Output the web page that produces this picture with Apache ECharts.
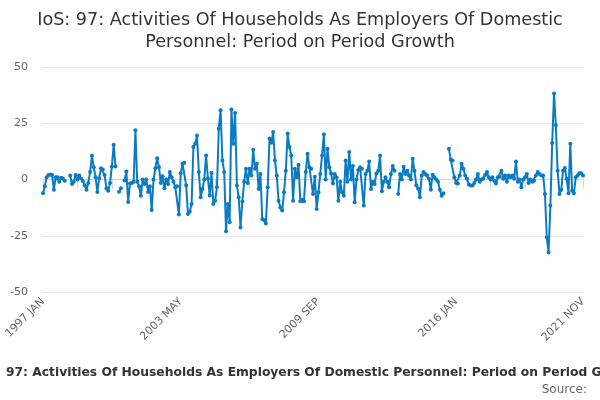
<!DOCTYPE html>
<html>
<head>
<meta charset="utf-8">
<script src="https://cdn.jsdelivr.net/npm/echarts@6/dist/echarts.min.js"></script>
<style>html,body{margin:0;padding:0;background:#fff;}#c{width:600px;height:400px;}</style>
</head>
<body>
<div id="c"></div>
<script>
var startYear = 1997;
var monthNames = ['JAN','FEB','MAR','APR','MAY','JUN','JUL','AUG','SEP','OCT','NOV','DEC'];
var yTicks = [-50, -25, 0, 25, 50];

var values1997_2001 = [-6.1,-3,1,2,2.2,2,-4.5,1,1,-1,0.8,0.5,-0.5,null,null,1.8,-2,-1,2,0,1.8,0.5,-0.7,-2.5,-4.5,-1.5,3.3,10.6,5.5,1,-5.5,0.5,5,4.5,2,-3.9,-5,-1.5,5.8,15.5,5.8,null,-5.4,-3.9,null,-0.4,3.6,-10,-1.8,-1.5,-1,21.9,-1,-3,-7.2,0,-2,0,-5.5,-3];
var values2002_2006 = [-13.5,0,5,9.5,5.5,-1.5,1.5,-3.9,0,-2,3.3,1,-1,-3.4,-3,-15.6,2.8,7,7.5,-2.5,-15.3,-14.3,-10.9,14.4,15.9,19.6,3.3,-7.9,-4.2,0,10.7,0.5,-7.1,3,-10.9,-9.4,-3.4,22.6,30.8,8.5,3.3,-23,-10.9,-19,31.1,15.9,29.6,-2.7,-7.9,-21.3,-9.8,-1,4.8,-1.5,4.8,1.8,13.2,4.8,7,-4.2];
var values2007_2011 = [2.4,-17.6,-18,-19.5,-3.4,18.2,16.3,21.1,8.5,1.8,-9.4,-12.4,-13.8,-5.7,3.9,20.4,14.4,10.7,-9.4,4.8,1,6.6,-9.7,-9,-9.7,3.3,11.5,5.4,4.8,-6.4,1.2,-13.1,-5.7,2.4,10.7,20.1,0,13.7,5.4,2.7,-1.8,2.4,1,-9.4,-1,-5.7,-7.2,8.5,-1,12.2,0,6,-10.1,0,4.2,5.4,4.8,-11.6,2.4,3.9];
var values2012_2016 = [8,-4.2,-1,-2,2.7,3.9,10.7,-5.2,-1,1,-1,-3.4,2.4,6,3.9,null,-6.4,2.4,0,5.7,2.4,3.9,1.8,0,9.2,3.9,-2.5,-4,-7.9,1.8,3.3,2.4,1.8,0.3,-4.5,2.1,1,0,-1,-4.5,-7.2,-6.1,null,null,13.7,8.8,8.5,1,-1.5,-1.8,1.8,7,4.8,1.8,0.3,-2.2,-2.7,-2.7,-1.5,0];
var values2017_2021 = [2.4,-1,0,0.3,2,3.3,1,0,1,-0.5,-1.8,1,1.2,3.9,0.3,1.8,-1,1.8,1,1.8,0.3,8,-1,0,-3.4,0,1,2.4,-1.5,0,-1,-0.5,1.8,3.3,2.4,1.8,1.8,-6.4,-25.7,-32.4,-11.6,16.2,38.2,24.1,3.9,-6.4,-4.5,3.9,5.1,0.3,-6.1,15.9,-5,-6.1,1,1.8,2.8,2.8,1.8];

var values = [].concat(values1997_2001, values2002_2006, values2007_2011, values2012_2016, values2017_2021);
var categories = [];
for (var k = 0; k < values.length; k++) {
  categories.push((startYear + Math.floor(k / 12)) + ' ' + monthNames[k % 12]);
}
var lastIdx = categories.length - 1;

var chart = echarts.init(document.getElementById('c'), null, {renderer: 'canvas'});
chart.setOption({
  animation: false,
  backgroundColor: '#fff',
  title: {
    text: 'IoS: 97: Activities Of Households As Employers Of Domestic\nPersonnel: Period on Period Growth',
    left: 'center',
    top: 4,
    textStyle: {fontFamily: 'DejaVu Sans', fontSize: 17.6, fontWeight: 'normal', color: '#333', lineHeight: 22}
  },
  grid: {left: 43, right: 17, top: 67, bottom: 108, containLabel: false},
  xAxis: {
    type: 'category',
    data: categories,
    boundaryGap: false,
    axisLine: {lineStyle: {color: '#ccd6eb'}},
    axisTick: {
      show: true, length: 9, lineStyle: {color: '#ccd6eb'},
      interval: function (idx) { return idx % 19 === 0 || idx === lastIdx; }
    },
    axisLabel: {
      rotate: 45, fontFamily: 'DejaVu Sans', fontSize: 11, color: '#666', margin: 8,
      interval: function (idx) { return idx % 76 === 0 || idx === lastIdx; }
    },
    splitLine: {show: false}
  },
  yAxis: {
    type: 'value',
    min: yTicks[0], max: yTicks[yTicks.length - 1], interval: 25,
    axisLine: {show: false},
    axisTick: {show: false},
    axisLabel: {fontFamily: 'DejaVu Sans', fontSize: 11, color: '#666', margin: 15},
    splitLine: {lineStyle: {color: '#e6e6e6'}}
  },
  series: [{
    type: 'line',
    data: values,
    connectNulls: false,
    showAllSymbol: true,
    symbol: 'circle',
    symbolSize: 4,
    itemStyle: {color: '#0b7bc1'},
    lineStyle: {color: '#0b7bc1', width: 2}
  }],
  graphic: [
    {type: 'text', left: 6, top: 367, style: {text: '97: Activities Of Households As Employers Of Domestic Personnel: Period on Period Growth', font: 'bold 12.3px "DejaVu Sans"', fill: '#333'}},
    {type: 'text', right: 13, top: 384, style: {text: 'Source:', font: '12px "DejaVu Sans"', fill: '#666'}}
  ]
});
</script>
</body>
</html>
